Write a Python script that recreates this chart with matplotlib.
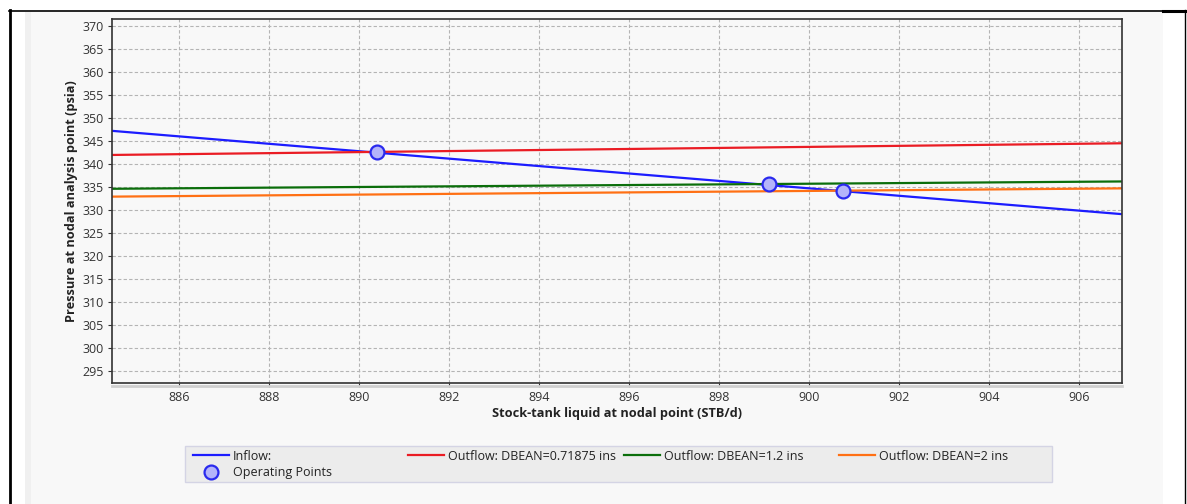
import matplotlib
matplotlib.use("Agg")
import matplotlib.pyplot as plt
from matplotlib.lines import Line2D
from matplotlib.patches import Rectangle
import numpy as np

plt.rcParams["font.family"] = ["Open Sans", "DejaVu Sans"]

# data
rate_ends = [884.0, 907.0]
inflow = [347.6, 329.05]
outflow_071875 = [341.9, 344.5]
outflow_12 = [334.57, 336.2]
outflow_2 = [332.86, 334.7]

op_rate = [890.4, 899.1, 900.75]
op_pres = [342.6, 335.6, 334.2]

x_ticks = np.arange(886, 907, 2)
y_ticks = np.arange(295, 371, 5)

W, H = 1187, 504
fig = plt.figure(figsize=(W / 100, H / 100), dpi=100)
fig.patch.set_facecolor("white")

def fx(px): return px / W
def fy(py): return 1 - py / H

# panel background + outer frame lines
fig.add_artist(Rectangle((fx(25), 0), fx(1163) - fx(25), fy(12), transform=fig.transFigure,
                         facecolor="#f8f8f8", edgecolor="none", zorder=0))
fig.add_artist(Rectangle((fx(25), 0), fx(6), fy(12), transform=fig.transFigure,
                         facecolor="#f0f0f0", edgecolor="none", zorder=0))
fig.add_artist(Line2D([fx(9), fx(1163)], [fy(10.5), fy(10.5)], color="black", lw=1.2))
fig.add_artist(Line2D([fx(1163), fx(1186)], [fy(11), fy(11)], color="black", lw=2.2))
fig.add_artist(Line2D([fx(10), fx(10)], [0, fy(10)], color="black", lw=2.0))
fig.add_artist(Line2D([fx(1185), fx(1185)], [0, fy(10)], color="black", lw=1.0))

ax = fig.add_axes([fx(112), fy(383), fx(1122) - fx(112), fy(19) - fy(383)])
ax.set_facecolor("#f8f8f8")

ln_in, = ax.plot(rate_ends, inflow, color="#1c1cff", lw=1.6, label="Inflow:")
ln_r, = ax.plot(rate_ends, outflow_071875, color="#ea1c24", lw=1.6, label="Outflow: DBEAN=0.71875 ins")
ln_g, = ax.plot(rate_ends, outflow_12, color="#0b6e0b", lw=1.6, label="Outflow: DBEAN=1.2 ins")
ln_o, = ax.plot(rate_ends, outflow_2, color="#ff7014", lw=1.6, label="Outflow: DBEAN=2 ins")
ln_op, = ax.plot(op_rate, op_pres, "o", ms=10, mec="#2a2aee", mew=1.6, mfc="#b4b4fa",
                 label="Operating Points", zorder=5)

ax.set_xlim(884.5, 906.95)
ax.set_ylim(292.4, 371.5)
ax.set_xticks(x_ticks)
ax.set_yticks(y_ticks)
ax.grid(True, color="#b4b4b4", linestyle=(0, (3, 2)), lw=0.8)
ax.set_axisbelow(True)
ax.tick_params(labelsize=9, colors="#333333", length=3, width=0.8, pad=3)
for s in ax.spines.values():
    s.set_color("#333333")
    s.set_linewidth(1.2)
# light shadow under the bottom axis
ax.add_line(Line2D([0, 1], [-0.007, -0.007], transform=ax.transAxes, color="#d0d0d0",
                   lw=2, clip_on=False))

ax.set_xlabel("Stock-tank liquid at nodal point (STB/d)", fontsize=9.2, fontweight="bold",
              color="#222222", labelpad=2)
ax.set_ylabel("Pressure at nodal analysis point (psia)", fontsize=9.2, fontweight="bold",
              color="#222222", labelpad=3)

# legend box
fig.add_artist(Rectangle((fx(185), fy(482)), fx(1052) - fx(185), fy(446) - fy(482),
                         transform=fig.transFigure, facecolor="#ececec",
                         edgecolor="#d4d4e4", lw=1.0, zorder=1))

groups = [([ln_in, ln_op], 190), ([ln_r], 405), ([ln_g], 621), ([ln_o], 836)]
for handles, px in groups:
    leg = fig.legend(handles=handles, loc="upper left", bbox_to_anchor=(fx(px), fy(447)),
                     frameon=False, fontsize=9, handlelength=2.9, handletextpad=0.35,
                     borderpad=0.2, labelspacing=0.3, borderaxespad=0)
    leg.set_zorder(2)
    for t in leg.get_texts():
        t.set_color("#222222")

fig.savefig("out.png", dpi=100)
